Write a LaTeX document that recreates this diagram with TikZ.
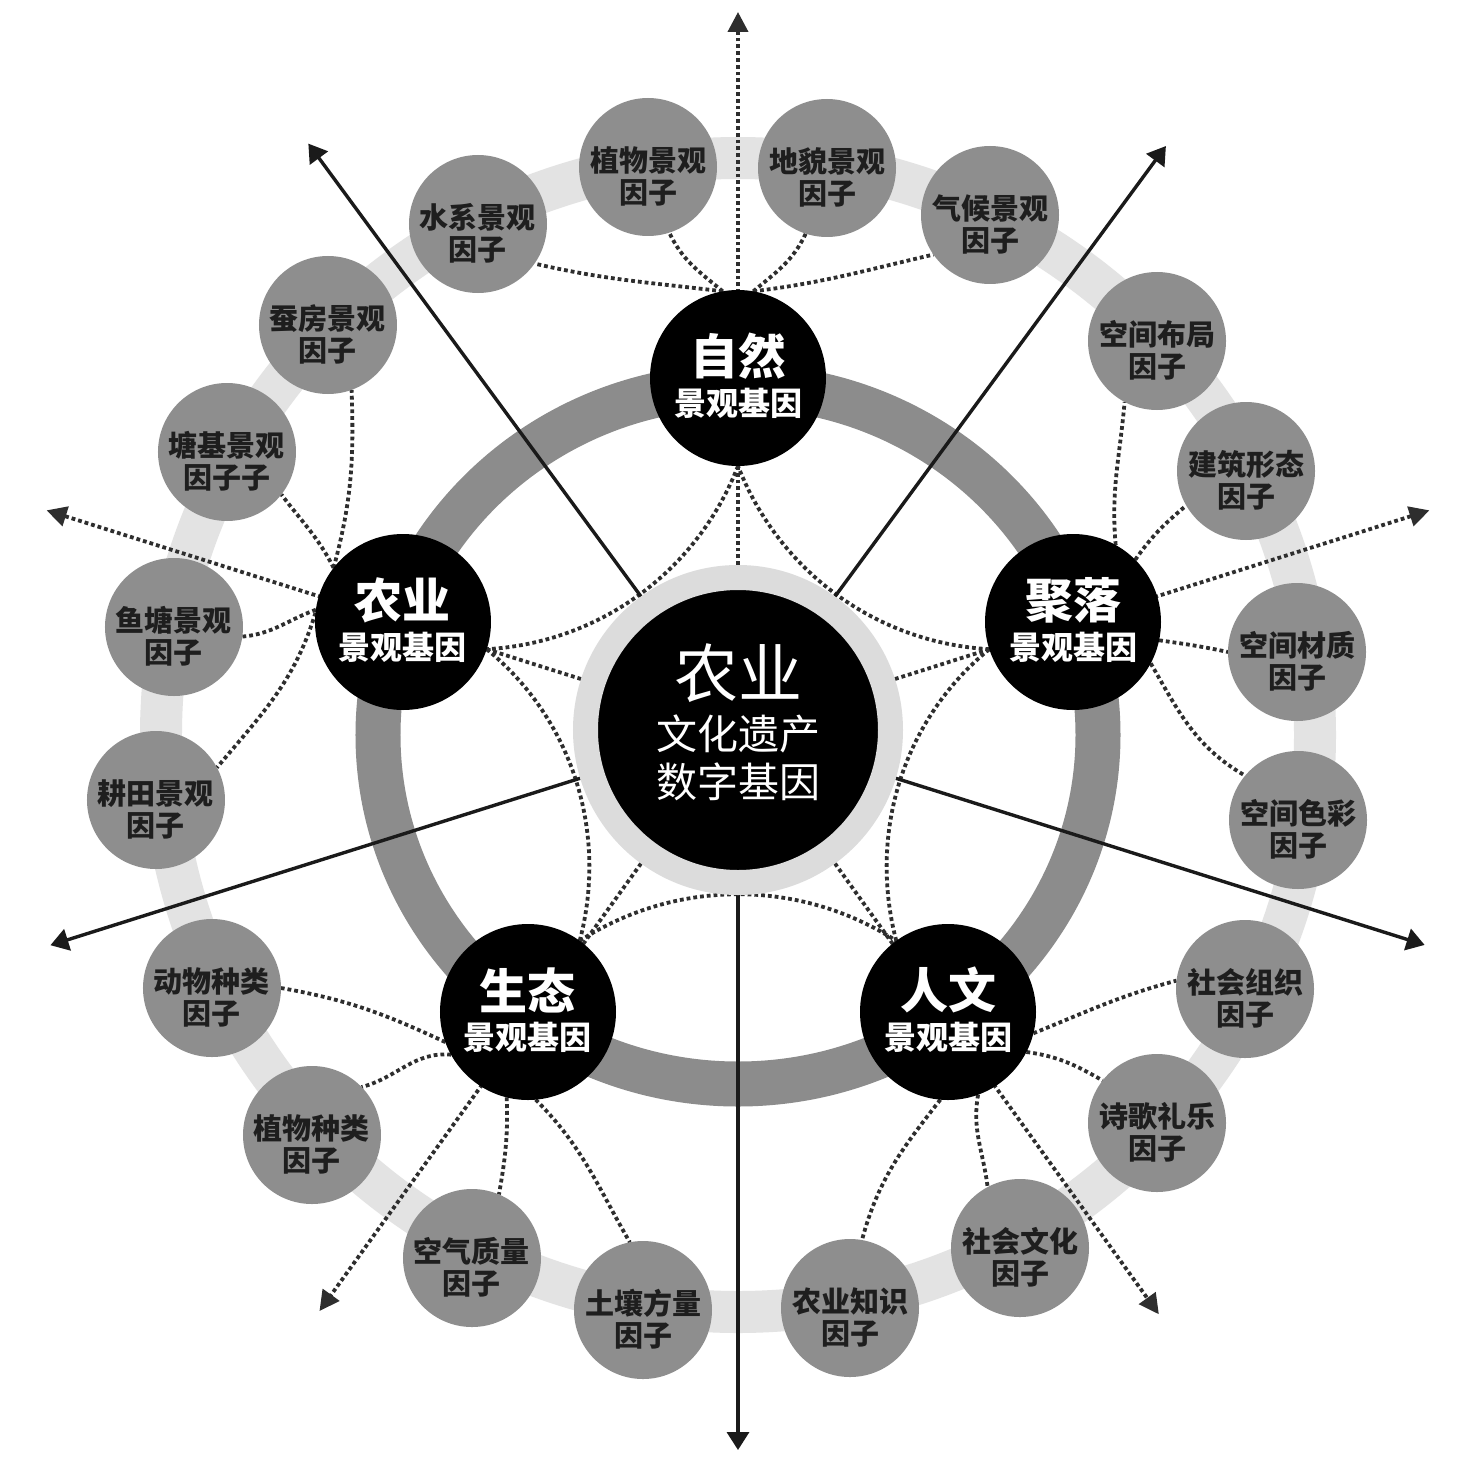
\documentclass[tikz,border=0pt]{standalone}
\usepackage{fontspec}
\newfontfamily\cjk{Noto Sans CJK SC}
\usetikzlibrary{arrows.meta}
\pgfdeclarelayer{bg}
\pgfdeclarelayer{mid}
\pgfsetlayers{bg,mid,main}
\definecolor{ringdark}{HTML}{8C8C8C}
\definecolor{ringlight}{HTML}{E3E3E3}
\definecolor{halo}{HTML}{DCDCDC}
\definecolor{facfill}{HTML}{8E8E8E}
\definecolor{factext}{HTML}{1E1E1E}
\definecolor{dotcol}{HTML}{2E2E2E}
\definecolor{arrowcol}{HTML}{1A1A1A}
\begin{document}
\begin{tikzpicture}[x=0.5pt,y=0.5pt,
  hub/.style={circle, fill=black, draw=halo, line width=12.5pt, minimum size=152.5pt, inner sep=0pt},
  sat/.style={circle, fill=black, minimum size=88pt, inner sep=0pt, outer sep=0pt},
  fac/.style={circle, fill=facfill, minimum size=69pt, inner sep=0pt, outer sep=0pt},
  factxt/.style={font=\cjk\bfseries\fontsize{14.5pt}{16pt}\selectfont, text=factext, align=center, inner sep=0pt},
  sattop/.style={font=\cjk\bfseries\fontsize{24pt}{26pt}\selectfont, text=white, inner sep=0pt},
  satbot/.style={font=\cjk\bfseries\fontsize{16pt}{18pt}\selectfont, text=white, inner sep=0pt},
  hubbig/.style={font=\cjk\fontsize{32pt}{34pt}\selectfont, text=white, inner sep=0pt},
  hubsmall/.style={font=\cjk\fontsize{20.5pt}{22pt}\selectfont, text=white, inner sep=0pt},
  dotline/.style={draw=dotcol, line width=1.9pt, dash pattern=on 1.9pt off 1.5pt},
  dotarrow/.style={dotline, -{Triangle[length=10pt,width=10pt]}},
  solidarrow/.style={draw=arrowcol, line width=1.7pt, -{Triangle[length=9pt,width=11pt]}}
]
\useasboundingbox (-738,-738) rectangle (737,735);

% hub and satellites
\node[hub] (hub) at (0,5) {};
\node[sat] (ziran) at (0,357) {};
\node[sat] (juluo) at (335,113) {};
\node[sat] (renwen) at (210,-277) {};
\node[sat] (shengtai) at (-210,-277) {};
\node[sat] (nongye) at (-335,113) {};

% factors
\node[fac] (shuixi) at (-260,511) {};
\node[fac] (zhiwujg) at (-90,568) {};
\node[fac] (dimao) at (89,567) {};
\node[fac] (qihou) at (252,520) {};
\node[fac] (buju) at (419,394) {};
\node[fac] (jianzhu) at (508,264) {};
\node[fac] (caizhi) at (559,83) {};
\node[fac] (secai) at (560,-85) {};
\node[fac] (zuzhi) at (507,-254) {};
\node[fac] (shige) at (419,-388) {};
\node[fac] (wenhua) at (282,-513) {};
\node[fac] (zhishi) at (112,-573) {};
\node[fac] (turang) at (-95,-575) {};
\node[fac] (kongqi) at (-266,-523) {};
\node[fac] (zhiwuzl) at (-426,-400) {};
\node[fac] (dongwu) at (-526,-253) {};
\node[fac] (gengtian) at (-582,-65) {};
\node[fac] (yutang) at (-564,108) {};
\node[fac] (tangji) at (-511,283) {};
\node[fac] (canfang) at (-410,410) {};

% hub text
\node[hubbig] (h-1) at ([yshift=28.25pt]hub.center) {农业};
\node[hubsmall] (h-2) at ([yshift=-1.75pt]hub.center) {文化遗产};
\node[hubsmall] (h-3) at ([yshift=-25.75pt]hub.center) {数字基因};

% satellite text
\node[sattop] (t-ziran1) at ([yshift=11pt]ziran.center) {自然};
\node[satbot] (t-ziran2) at ([yshift=-12.5pt]ziran.center) {景观基因};
\node[sattop] (t-juluo1) at ([yshift=11pt]juluo.center) {聚落};
\node[satbot] (t-juluo2) at ([yshift=-12.5pt]juluo.center) {景观基因};
\node[sattop] (t-renwen1) at ([yshift=11pt]renwen.center) {人文};
\node[satbot] (t-renwen2) at ([yshift=-12.5pt]renwen.center) {景观基因};
\node[sattop] (t-shengtai1) at ([yshift=11pt]shengtai.center) {生态};
\node[satbot] (t-shengtai2) at ([yshift=-12.5pt]shengtai.center) {景观基因};
\node[sattop] (t-nongye1) at ([yshift=11pt]nongye.center) {农业};
\node[satbot] (t-nongye2) at ([yshift=-12.5pt]nongye.center) {景观基因};

% factor text
\node[factxt] (t-shuixi) at ([yshift=-4.5pt]shuixi.center) {水系景观\\因子};
\node[factxt] (t-zhiwujg) at ([yshift=-4.5pt]zhiwujg.center) {植物景观\\因子};
\node[factxt] (t-dimao) at ([yshift=-4.5pt]dimao.center) {地貌景观\\因子};
\node[factxt] (t-qihou) at ([yshift=-4.5pt]qihou.center) {气候景观\\因子};
\node[factxt] (t-buju) at ([yshift=-4.5pt]buju.center) {空间布局\\因子};
\node[factxt] (t-jianzhu) at ([yshift=-4.5pt]jianzhu.center) {建筑形态\\因子};
\node[factxt] (t-caizhi) at ([yshift=-4.5pt]caizhi.center) {空间材质\\因子};
\node[factxt] (t-secai) at ([yshift=-4.5pt]secai.center) {空间色彩\\因子};
\node[factxt] (t-zuzhi) at ([yshift=-4.5pt]zuzhi.center) {社会组织\\因子};
\node[factxt] (t-shige) at ([yshift=-4.5pt]shige.center) {诗歌礼乐\\因子};
\node[factxt] (t-wenhua) at ([yshift=-4.5pt]wenhua.center) {社会文化\\因子};
\node[factxt] (t-zhishi) at ([yshift=-4.5pt]zhishi.center) {农业知识\\因子};
\node[factxt] (t-turang) at ([yshift=-4.5pt]turang.center) {土壤方量\\因子};
\node[factxt] (t-kongqi) at ([yshift=-4.5pt]kongqi.center) {空气质量\\因子};
\node[factxt] (t-zhiwuzl) at ([yshift=-4.5pt]zhiwuzl.center) {植物种类\\因子};
\node[factxt] (t-dongwu) at ([yshift=-4.5pt]dongwu.center) {动物种类\\因子};
\node[factxt] (t-gengtian) at ([yshift=-4.5pt]gengtian.center) {耕田景观\\因子};
\node[factxt] (t-yutang) at ([yshift=-4.5pt]yutang.center) {鱼塘景观\\因子};
\node[factxt] (t-tangji) at ([yshift=-4.5pt]tangji.center) {塘基景观\\因子子};
\node[factxt] (t-canfang) at ([yshift=-4.5pt]canfang.center) {蚕房景观\\因子};

% arrow end points
\coordinate (e54) at (54:728);
\coordinate (e126) at (126:731);
\coordinate (e197) at (197:719);
\coordinate (e270) at (270:715);
\coordinate (e343) at (-17:718);
\coordinate (d90) at (90:723);
\coordinate (d18) at (18:727);
\coordinate (d306) at (-54:716);
\coordinate (d234) at (-126:712);
\coordinate (d162) at (162:727);

\begin{pgfonlayer}{bg}
  \fill[white] (-738,-738) rectangle (737,735);
  \draw[ringlight, line width=21pt] (0,0) circle[radius=577];
  \draw[ringdark, line width=22.5pt] (0,0) ellipse[x radius=360, y radius=349];
\end{pgfonlayer}

\begin{pgfonlayer}{mid}
  % curves between neighbouring satellites
  \draw[dotline] (juluo.198) to[out=176.75,in=-68.75,looseness=0.93] (ziran.270);
  \draw[dotline] (ziran.270) to[out=248.75,in=3.25,looseness=0.93] (nongye.342);
  \draw[dotline] (nongye.342) to[out=320.75,in=75.25,looseness=0.93] (shengtai.54);
  \draw[dotline] (shengtai.54) to[out=32.75,in=147.25,looseness=0.93] (renwen.126);
  \draw[dotline] (renwen.126) to[out=104.75,in=219.25,looseness=0.93] (juluo.198);

  % radial dotted arrows
  \draw[dotarrow] (hub.90) -- (d90);
  \draw[dotarrow] (hub.18) -- (d18);
  \draw[dotarrow] (hub.-54) -- (d306);
  \draw[dotarrow] (hub.-126) -- (d234);
  \draw[dotarrow] (hub.162) -- (d162);

  % solid arrows
  \draw[solidarrow] (hub.54) -- (e54);
  \draw[solidarrow] (hub.126) -- (e126);
  \draw[solidarrow] (hub.197) -- (e197);
  \draw[solidarrow] (hub.270) -- (e270);
  \draw[solidarrow] (hub.-17) -- (e343);

  % ziran factors
  \draw[dotline] (ziran.100) to[out=173,in=-13] (shuixi.-35);
  \draw[dotline] (ziran.100) to[out=140,in=-65] (zhiwujg.-72);
  \draw[dotline] (ziran.80) to[out=40,in=-115] (dimao.-108);
  \draw[dotline] (ziran.80) to[out=7,in=193] (qihou.215);
  % nongye factors
  \draw[dotline] (nongye.142) to[out=75,in=-88] (canfang.-70);
  \draw[dotline] (nongye.142) to[out=117,in=-53] (tangji.-38);
  \draw[dotline] (nongye.172) to[out=200,in=5] (yutang.-8);
  \draw[dotline] (nongye.174) to[out=253,in=50] (gengtian.28);
  % juluo factors
  \draw[dotline] (juluo.61) to[out=95,in=265] (buju.242);
  \draw[dotline] (juluo.45) to[out=55,in=220] (jianzhu.210);
  \draw[dotline] (juluo.-12) to[out=-8,in=168] (caizhi.180);
  \draw[dotline] (juluo.-28) to[out=-60,in=150] (secai.140);
  % renwen factors
  \draw[dotline] (renwen.-14) to[out=22,in=195] (zuzhi.173);
  \draw[dotline] (renwen.-27) to[out=-8,in=150] (shige.142);
  \draw[dotline] (renwen.-70) to[out=-100,in=97] (wenhua.118);
  \draw[dotline] (renwen.265) to[out=232,in=75] (zhishi.80);
  % shengtai factors
  \draw[dotline] (shengtai.-85) to[out=-45,in=120] (turang.101);
  \draw[dotline] (shengtai.-104) to[out=-88,in=80] (kongqi.67);
  \draw[dotline] (shengtai.209) to[out=175,in=15] (zhiwuzl.44);
  \draw[dotline] (shengtai.200) to[out=155,in=-10] (dongwu.0);
\end{pgfonlayer}
\end{tikzpicture}
\end{document}
